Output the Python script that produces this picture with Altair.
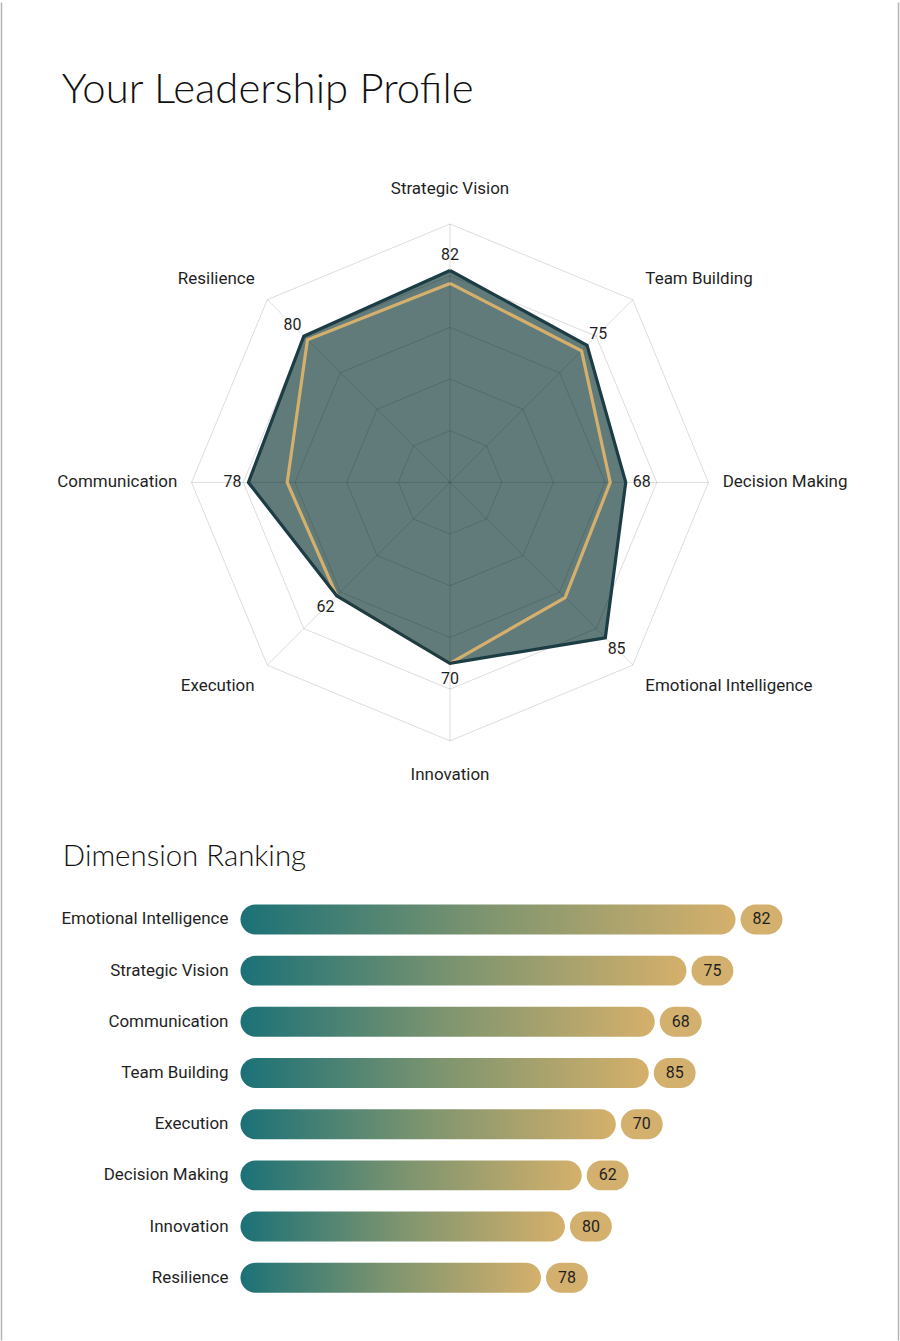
import math
import altair as alt
import pandas as pd

# ---------------- data ----------------
categories = ["Strategic Vision", "Team Building", "Decision Making", "Emotional Intelligence",
              "Innovation", "Execution", "Communication", "Resilience"]
scores = [82, 75, 68, 85, 70, 62, 78, 80]
benchmark = [77, 72, 62, 63, 70, 62, 63, 78]
grid_levels = [20, 40, 60, 80, 100]

rank_names = ["Emotional Intelligence", "Strategic Vision", "Communication", "Team Building",
              "Execution", "Decision Making", "Innovation", "Resilience"]
rank_labels = [82, 75, 68, 85, 70, 62, 80, 78]
rank_bar = [82.7, 74.5, 69.2, 68.2, 62.7, 57.0, 54.2, 50.2]

# ---------------- styling constants ----------------
W = 900
H_TOP = 800
H_BOT = 541
PX = 2.59          # pixels per score unit in radar
CX, CY = 450, 481  # radar centre (page px)
FONT = "Roboto"
TITLE_FONT = "Lato"
TEAL_DARK = "#1d3d45"
GOLD = "#d4b06c"
FILL = "#617b7b"
TXT = "#1f1f1f"

n = len(categories)
ang = [2 * math.pi * i / n for i in range(n)]


def pt(r, a):
    return r * math.sin(a), r * math.cos(a)


def poly(vals, name):
    rows = []
    for i in range(n + 1):
        k = i % n
        x, y = pt(vals[k], ang[k])
        rows.append({"series": name, "idx": i, "x": x, "y": y})
    return rows


data_df = pd.DataFrame(poly(scores, "score"))
bench_df = pd.DataFrame(poly(benchmark, "bench"))

grid_rows = []
for lv in grid_levels:
    for i in range(n + 1):
        k = i % n
        x, y = pt(lv, ang[k])
        grid_rows.append({"g": f"ring{lv}", "idx": i, "x": x, "y": y})
for k in range(n):
    x, y = pt(100, ang[k])
    grid_rows.append({"g": f"spoke{k}", "idx": 0, "x": 0.0, "y": 0.0})
    grid_rows.append({"g": f"spoke{k}", "idx": 1, "x": x, "y": y})
grid_df = pd.DataFrame(grid_rows)

lab_rows = []
for k, c in enumerate(categories):
    deg = round(math.degrees(ang[k])) % 360
    if deg == 0:
        side, r = "top", 110
    elif deg == 180:
        side, r = "bottom", 110
    elif deg == 90:
        side, r = "right", 105.5
    elif deg == 270:
        side, r = "left", 105.5
    elif deg < 90:
        side, r = "right_up", 108
    elif deg < 180:
        side, r = "right_down", 108
    elif deg < 270:
        side, r = "left_down", 108
    else:
        side, r = "left_up", 108
    x, y = pt(r, ang[k])
    vx, vy = pt(scores[k] + 16 / PX, ang[k])
    lab_rows.append({"cat": c, "side": side, "x": x, "y": y, "vx": vx, "vy": vy,
                     "val": str(scores[k])})
lab_df = pd.DataFrame(lab_rows)

xs = alt.Scale(domain=[-CX / PX, (W - CX) / PX], nice=False, zero=False)
ys = alt.Scale(domain=[-(H_TOP - CY) / PX, CY / PX], nice=False, zero=False)
X = lambda f: alt.X(f, type="quantitative", scale=xs, axis=None)
Y = lambda f: alt.Y(f, type="quantitative", scale=ys, axis=None)

fill_layer = alt.Chart(data_df).mark_line(
    fill=FILL, stroke=None, strokeWidth=0, fillOpacity=1
).encode(x=X("x"), y=Y("y"), order="idx:Q")

grid_layer = alt.Chart(grid_df).mark_line(
    color="#000000", strokeOpacity=0.14, strokeWidth=1
).encode(x=X("x"), y=Y("y"), detail="g:N", order="idx:Q")

bench_layer = alt.Chart(bench_df).mark_line(
    color=GOLD, strokeWidth=3.2, strokeJoin="miter"
).encode(x=X("x"), y=Y("y"), order="idx:Q")

score_layer = alt.Chart(data_df).mark_line(
    color=TEAL_DARK, strokeWidth=3.2, strokeJoin="miter"
).encode(x=X("x"), y=Y("y"), order="idx:Q")

side_props = {
    "top": dict(align="center", baseline="bottom"),
    "bottom": dict(align="center", baseline="top"),
    "left": dict(align="right", baseline="middle"),
    "right": dict(align="left", baseline="middle"),
    "right_up": dict(align="left", baseline="middle", dx=-2, dy=-6),
    "right_down": dict(align="left", baseline="middle", dx=-2, dy=6),
    "left_up": dict(align="right", baseline="middle", dx=2, dy=-6),
    "left_down": dict(align="right", baseline="middle", dx=2, dy=6),
}
label_layers = []
for s, props in side_props.items():
    label_layers.append(
        alt.Chart(lab_df).transform_filter(alt.datum.side == s).mark_text(
            font=FONT, fontSize=17, color=TXT, **props
        ).encode(x=X("x"), y=Y("y"), text="cat:N")
    )

val_layer = alt.Chart(lab_df).mark_text(
    font=FONT, fontSize=16, color=TXT, align="center", baseline="middle"
).encode(x=X("vx"), y=Y("vy"), text="val:N")

title_df = pd.DataFrame({"t": ["Your Leadership Profile"]})
title_layer = alt.Chart(title_df).mark_text(
    font=TITLE_FONT, fontSize=42, fontWeight=300, color="#111111", align="left", baseline="alphabetic"
).encode(x=alt.value(61), y=alt.value(101), text="t:N")

radar = alt.layer(
    fill_layer, grid_layer, bench_layer, score_layer, *label_layers, val_layer, title_layer,
).properties(width=W, height=H_TOP)

# ---------------- ranking bars ----------------
rank_df = pd.DataFrame({
    "name": rank_names,
    "label": [str(v) for v in rank_labels],
    "len": rank_bar,
    "rank": list(range(len(rank_names))),
})
BAR_PX = 6.0
X0 = 240
ROW0, STEP = 119, 51.3
HALF = 15 / STEP
bx = alt.Scale(domain=[-X0 / BAR_PX, (W - X0) / BAR_PX], nice=False, zero=False)
by = alt.Scale(domain=[-ROW0 / STEP, (H_BOT - ROW0) / STEP], nice=False, zero=False, reverse=True)
BX = lambda f: alt.X(f, type="quantitative", scale=bx, axis=None)
BY = lambda f: alt.Y(f, type="quantitative", scale=by, axis=None)

base = alt.Chart(rank_df).transform_calculate(
    y0=f"datum.rank - {HALF}", y1=f"datum.rank + {HALF}", zero="0",
    p0=f"datum.len + {5 / BAR_PX}", p1=f"datum.len + {47 / BAR_PX}",
    pc=f"datum.len + {26 / BAR_PX}",
)

grad = alt.Gradient(
    gradient="linear",
    stops=[alt.GradientStop(color="#1b7177", offset=0),
           alt.GradientStop(color="#7f956f", offset=0.5),
           alt.GradientStop(color="#d5b06b", offset=1)],
    x1=0, x2=1, y1=0, y2=0,
)
bars = base.mark_rect(fill=grad, cornerRadius=15).encode(
    x=BX("zero"), x2="len:Q", y=BY("y0"), y2="y1:Q")
pills = base.mark_rect(fill="#d3b06e", cornerRadius=15).encode(
    x=BX("p0"), x2="p1:Q", y=BY("y0"), y2="y1:Q")
pill_txt = base.mark_text(font=FONT, fontSize=16, color=TXT, align="center", baseline="middle").encode(
    x=BX("pc"), y=BY("rank"), text="label:N")
names = base.mark_text(font=FONT, fontSize=17, color=TXT, align="right", baseline="middle").encode(
    x=alt.value(228), y=BY("rank"), text="name:N")

sub_df = pd.DataFrame({"t": ["Dimension Ranking"]})
sub_title = alt.Chart(sub_df).mark_text(
    font=TITLE_FONT, fontSize=29.5, fontWeight=300, color="#111111", align="left", baseline="alphabetic"
).encode(x=alt.value(62), y=alt.value(65), text="t:N")

# page border (left and right edges, spanning both panels)
border_df = pd.DataFrame({"b": [0]})
borders = [
    alt.Chart(border_df).mark_rule(color="#b5b5b5", strokeWidth=1.5).encode(
        x=alt.value(0.5), y=alt.value(-H_TOP), y2=alt.value(H_BOT)),
    alt.Chart(border_df).mark_rule(color="#b5b5b5", strokeWidth=1.5).encode(
        x=alt.value(W - 0.5), y=alt.value(-H_TOP), y2=alt.value(H_BOT)),
]

ranking = alt.layer(bars, pills, pill_txt, names, sub_title, *borders).properties(
    width=W, height=H_BOT)

chart = alt.vconcat(radar, ranking, spacing=0, bounds="flush").properties(
    padding=0, background="#ffffff"
).configure_view(stroke=None).configure_concat(spacing=0)

chart.save("out.html", embed_options={"renderer": "svg", "actions": False})
